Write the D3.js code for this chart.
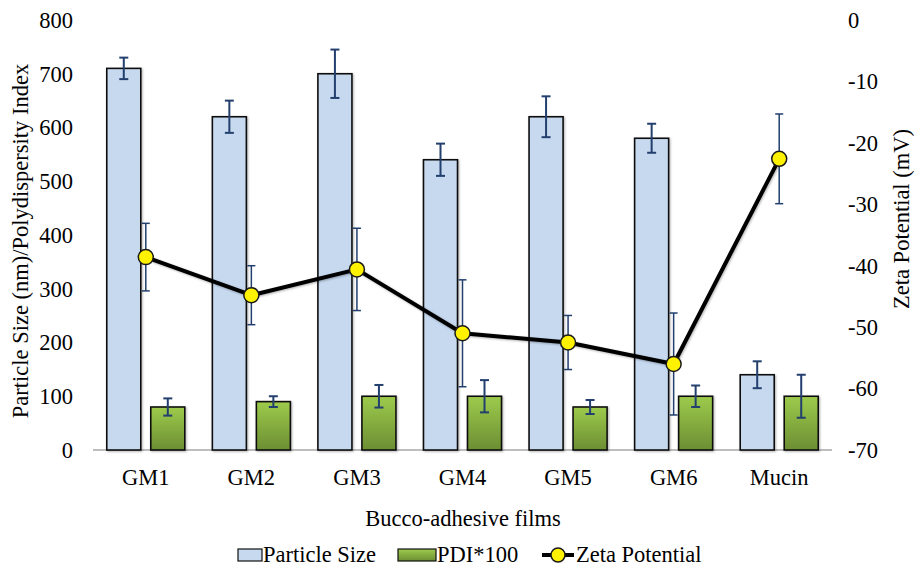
<!DOCTYPE html>
<html>
<head>
<meta charset="utf-8">
<script src="https://cdn.jsdelivr.net/npm/d3@7"></script>
<style>
  html, body { margin: 0; padding: 0; background: #fff; }
  svg { display: block; }
  text { font-family: "Liberation Serif", "Times New Roman", serif; fill: #000; }
</style>
</head>
<body>
<svg id="chart" width="917" height="568"></svg>
<script>
const categories = ["GM1", "GM2", "GM3", "GM4", "GM5", "GM6", "Mucin"];
const particleSize = [710, 620, 700, 540, 620, 580, 140];
const particleErr  = [20, 30, 45, 30, 38, 27, 25];
const pdi100       = [80, 90, 100, 100, 80, 100, 100];
const pdiErr       = [16, 10, 21, 30, 13, 20, 40];
const zeta         = [-38.6, -44.8, -40.6, -51.0, -52.5, -56.0, -22.6];
const zetaErr      = [5.5, 4.8, 6.7, 8.7, 4.4, 8.3, 7.3];
const leftTicks  = [0, 100, 200, 300, 400, 500, 600, 700, 800];
const rightTicks = [0, -10, -20, -30, -40, -50, -60, -70];

const svg = d3.select("#chart");
const mLeft = 93, mRight = 832, mTop = 20, mBottom = 450;
const FONT = 22.5;

const x = d3.scaleBand().domain(categories).range([mLeft, mRight]).paddingInner(0).paddingOuter(0);
const x1 = d3.scaleBand().domain(["ps", "pdi"]).range([0, x.bandwidth()]).paddingInner(0.227).paddingOuter(0.313);
const y = d3.scaleLinear().domain([0, 800]).range([mBottom, mTop]);
const y2 = d3.scaleLinear().domain([-70, 0]).range([mBottom, mTop]);

const defs = svg.append("defs");
const grad = defs.append("linearGradient").attr("id", "greenGrad").attr("x1", 0).attr("y1", 0).attr("x2", 0).attr("y2", 1);
grad.append("stop").attr("offset", "0%").attr("stop-color", "#9DCB4C");
grad.append("stop").attr("offset", "100%").attr("stop-color", "#6C8E33");
const shadow = defs.append("filter").attr("id", "shadow").attr("x", "-20%").attr("y", "-20%").attr("width", "140%").attr("height", "140%");
shadow.append("feDropShadow").attr("dx", 1).attr("dy", 1).attr("stdDeviation", 1).attr("flood-color", "#000").attr("flood-opacity", 0.3);

// x axis line
svg.append("line").attr("x1", mLeft).attr("x2", mRight).attr("y1", mBottom).attr("y2", mBottom)
  .attr("stroke", "#7f7f7f").attr("stroke-width", 1.2);

// bars
const g = svg.append("g");
categories.forEach((c, i) => {
  const bx = x(c);
  g.append("rect")
    .attr("x", bx + x1("ps")).attr("y", y(particleSize[i]))
    .attr("width", x1.bandwidth()).attr("height", y(0) - y(particleSize[i]))
    .attr("fill", "#C6D9EF").attr("stroke", "#111").attr("stroke-width", 1.6)
    .attr("filter", "url(#shadow)");
  g.append("rect")
    .attr("x", bx + x1("pdi")).attr("y", y(pdi100[i]))
    .attr("width", x1.bandwidth()).attr("height", y(0) - y(pdi100[i]))
    .attr("fill", "url(#greenGrad)").attr("stroke", "#111").attr("stroke-width", 1.6)
    .attr("filter", "url(#shadow)");
});

// error bars for bars
const errColor = "#223F6E";
function errBar(cx, yTop, yBot, cap, w) {
  g.append("line").attr("x1", cx).attr("x2", cx).attr("y1", yTop).attr("y2", yBot).attr("stroke", errColor).attr("stroke-width", w);
  g.append("line").attr("x1", cx - cap).attr("x2", cx + cap).attr("y1", yTop).attr("y2", yTop).attr("stroke", errColor).attr("stroke-width", w);
  g.append("line").attr("x1", cx - cap).attr("x2", cx + cap).attr("y1", yBot).attr("y2", yBot).attr("stroke", errColor).attr("stroke-width", w);
}
categories.forEach((c, i) => {
  const bx = x(c);
  const cps = bx + x1("ps") + x1.bandwidth() / 2;
  const cpdi = bx + x1("pdi") + x1.bandwidth() / 2;
  errBar(cps, y(particleSize[i] + particleErr[i]), y(particleSize[i] - particleErr[i]), 4.5, 2);
  errBar(cpdi, y(pdi100[i] + pdiErr[i]), y(pdi100[i] - pdiErr[i]), 4.5, 2);
});
// zeta error bars
categories.forEach((c, i) => {
  const cx = x(c) + x.bandwidth() / 2;
  errBar(cx, y2(zeta[i] + zetaErr[i]), y2(zeta[i] - zetaErr[i]), 4, 1.5);
});

// zeta line
const line = d3.line().x((d, i) => x(categories[i]) + x.bandwidth() / 2).y(d => y2(d));
svg.append("path").datum(zeta).attr("d", line).attr("fill", "none")
  .attr("stroke", "#000").attr("stroke-width", 4).attr("stroke-linejoin", "round")
  .attr("filter", "url(#shadow)");
svg.selectAll("circle.pt").data(zeta).enter().append("circle")
  .attr("class", "pt")
  .attr("cx", (d, i) => x(categories[i]) + x.bandwidth() / 2)
  .attr("cy", d => y2(d)).attr("r", 7.5)
  .attr("fill", "#FFF200").attr("stroke", "#1a1a1a").attr("stroke-width", 1.5);

// left axis labels
svg.append("g").selectAll("text").data(leftTicks).enter().append("text")
  .attr("x", 73).attr("y", d => y(d)).attr("dy", "0.35em")
  .attr("text-anchor", "end").attr("font-size", FONT).text(d => d);
// right axis labels
svg.append("g").selectAll("text").data(rightTicks).enter().append("text")
  .attr("x", 848).attr("y", d => y2(d)).attr("dy", "0.35em")
  .attr("text-anchor", "start").attr("font-size", FONT).text(d => d);
// category labels
svg.append("g").selectAll("text").data(categories).enter().append("text")
  .attr("x", d => x(d) + x.bandwidth() / 2).attr("y", 477).attr("dy", "0.35em")
  .attr("text-anchor", "middle").attr("font-size", FONT).text(d => d);

// titles
svg.append("text").attr("x", 463).attr("y", 518).attr("dy", "0.35em").attr("text-anchor", "middle")
  .attr("font-size", FONT).text("Bucco-adhesive films");
svg.append("text").attr("transform", "translate(20,241) rotate(-90)").attr("dy", "0.35em")
  .attr("text-anchor", "middle").attr("font-size", FONT).text("Particle Size (nm)/Polydispersity Index");
svg.append("text").attr("transform", "translate(901,219) rotate(-90)").attr("dy", "0.35em")
  .attr("text-anchor", "middle").attr("font-size", FONT).text("Zeta Potential (mV)");

// legend
const ly = 554;
const leg = svg.append("g");
leg.append("rect").attr("x", 238).attr("y", ly - 5).attr("width", 24).attr("height", 12)
  .attr("fill", "#C6D9EF").attr("stroke", "#111").attr("stroke-width", 1.2);
leg.append("text").attr("x", 263).attr("y", ly).attr("dy", "0.35em").attr("font-size", FONT).text("Particle Size");
leg.append("rect").attr("x", 398).attr("y", ly - 5).attr("width", 38).attr("height", 12)
  .attr("fill", "url(#greenGrad)").attr("stroke", "#111").attr("stroke-width", 1.2);
leg.append("text").attr("x", 437).attr("y", ly).attr("dy", "0.35em").attr("font-size", FONT).text("PDI*100");
leg.append("line").attr("x1", 542).attr("x2", 574).attr("y1", ly + 1).attr("y2", ly + 1).attr("stroke", "#000").attr("stroke-width", 4);
leg.append("circle").attr("cx", 558).attr("cy", ly + 1).attr("r", 7).attr("fill", "#FFF200").attr("stroke", "#1a1a1a").attr("stroke-width", 1.5);
leg.append("text").attr("x", 576).attr("y", ly).attr("dy", "0.35em").attr("font-size", FONT).text("Zeta Potential");
</script>
</body>
</html>
